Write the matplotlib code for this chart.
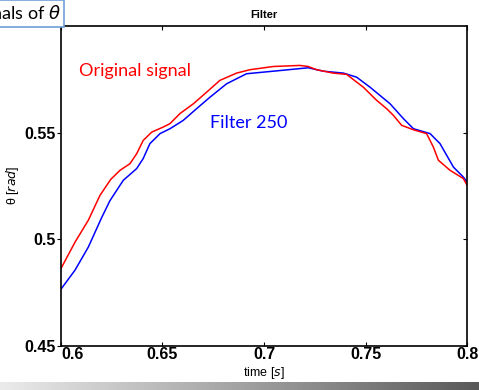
import numpy as np
import matplotlib
matplotlib.use("Agg")
import matplotlib.pyplot as plt

# 元信号 (時間, θ)
orig_t = [0.600, 0.607, 0.6135, 0.6192, 0.6245, 0.6291, 0.634, 0.6373,
          0.6405, 0.6447, 0.6504, 0.6537, 0.6586, 0.6652, 0.6718, 0.6783,
          0.6865, 0.6931, 0.7046, 0.7177, 0.7218, 0.7259, 0.7341, 0.7407,
          0.7489, 0.7555, 0.7604, 0.7637, 0.7678, 0.7736, 0.7801, 0.7834,
          0.7859, 0.7916, 0.7982, 0.8000]
orig_theta = [0.4862, 0.4987, 0.5089, 0.5205, 0.5280, 0.5323, 0.5354, 0.5401,
              0.5463, 0.5502, 0.5526, 0.5542, 0.5589, 0.5635, 0.5690, 0.5745,
              0.5779, 0.5795, 0.5810, 0.5815, 0.5810, 0.5795, 0.5779, 0.5773,
              0.5713, 0.5651, 0.5612, 0.5581, 0.5534, 0.5513, 0.5495, 0.5432,
              0.5370, 0.5323, 0.5284, 0.5253]

# フィルタ後 (250)
filt_t = [0.600, 0.6069, 0.6135, 0.6200, 0.6241, 0.6307, 0.6373, 0.6405,
          0.6438, 0.6488, 0.6537, 0.6602, 0.6668, 0.6734, 0.6816, 0.6914,
          0.7046, 0.7218, 0.7292, 0.7391, 0.7456, 0.7522, 0.7621, 0.7687,
          0.7736, 0.7818, 0.7867, 0.7900, 0.7933, 0.7982, 0.8000]
filt_theta = [0.4765, 0.4854, 0.4963, 0.5100, 0.5180, 0.5276, 0.5331, 0.5378,
              0.5448, 0.5495, 0.5518, 0.5557, 0.5612, 0.5666, 0.5729, 0.5776,
              0.5788, 0.5804, 0.5788, 0.5779, 0.5760, 0.5713, 0.5635, 0.5565,
              0.5518, 0.5495, 0.5448, 0.5393, 0.5338, 0.5291, 0.5268]

x_ticks = [0.6, 0.65, 0.7, 0.75, 0.8]
x_tick_labels = ["0.6", "0.65", "0.7", "0.75", "0.8"]
y_ticks = [0.45, 0.5, 0.55]
y_tick_labels = ["0.45", "0.5", "0.55"]

plt.rcParams["font.family"] = ["Liberation Sans", "DejaVu Sans"]

fig = plt.figure(figsize=(4.79, 3.90), dpi=100)
ax = fig.add_axes([0.1273, 0.1138, 0.8477, 0.8195])

ax.plot(filt_t, filt_theta, color="#0000ff", linewidth=1.1)
ax.plot(orig_t, orig_theta, color="#ff0000", linewidth=1.1)

ax.set_xlim(0.6, 0.8)
ax.set_ylim(0.45, 0.6)
ax.set_xticks(x_ticks)
ax.set_xticklabels(x_tick_labels, fontsize=11.5, fontweight="bold")
ax.set_yticks(y_ticks)
ax.set_yticklabels(y_tick_labels, fontsize=11.5, fontweight="bold")
ax.get_xticklabels()[0].set_horizontalalignment("left")

for s in ax.spines.values():
    s.set_linewidth(1.2)
ax.tick_params(axis="x", direction="in", top=True, length=3, pad=1)
ax.tick_params(axis="y", direction="out", length=3, pad=1, right=True)
for t in ax.yaxis.get_major_ticks():
    t.tick2line.set_marker(matplotlib.lines.TICKLEFT)

ax.set_xlabel("time [$s$]", fontsize=9, labelpad=2)
ax.set_ylabel(r"θ [$rad$]", fontsize=9)
ax.yaxis.set_label_coords(-0.098, 0.5)
ax.set_title("Filter", fontsize=8, fontweight="bold", pad=6)

ax.text(0.6089, 0.5791, "Original signal", color="#ff0000", fontsize=13,
        family="Lato", va="center", ha="left")
ax.text(0.6734, 0.5543, "Filter 250", color="#0000ff", fontsize=13,
        family="Lato", va="center", ha="left")

# 左上のテキストボックス (スライド上で左にはみ出している)
fig.text(0.128, 0.992, r"Signals of $\theta$", fontsize=13, family="Lato",
         ha="right", va="top",
         bbox=dict(boxstyle="square,pad=0.15", fc="white", ec="#6f9fd8", lw=1.2))

# 下部のグラデーション帯
gax = fig.add_axes([0, 0, 1, 0.02])
grad = np.linspace(0.92, 0.35, 256).reshape(1, -1)
gax.imshow(grad, aspect="auto", cmap="gray", vmin=0, vmax=1)
gax.axis("off")

fig.savefig("out.png", dpi=100)
